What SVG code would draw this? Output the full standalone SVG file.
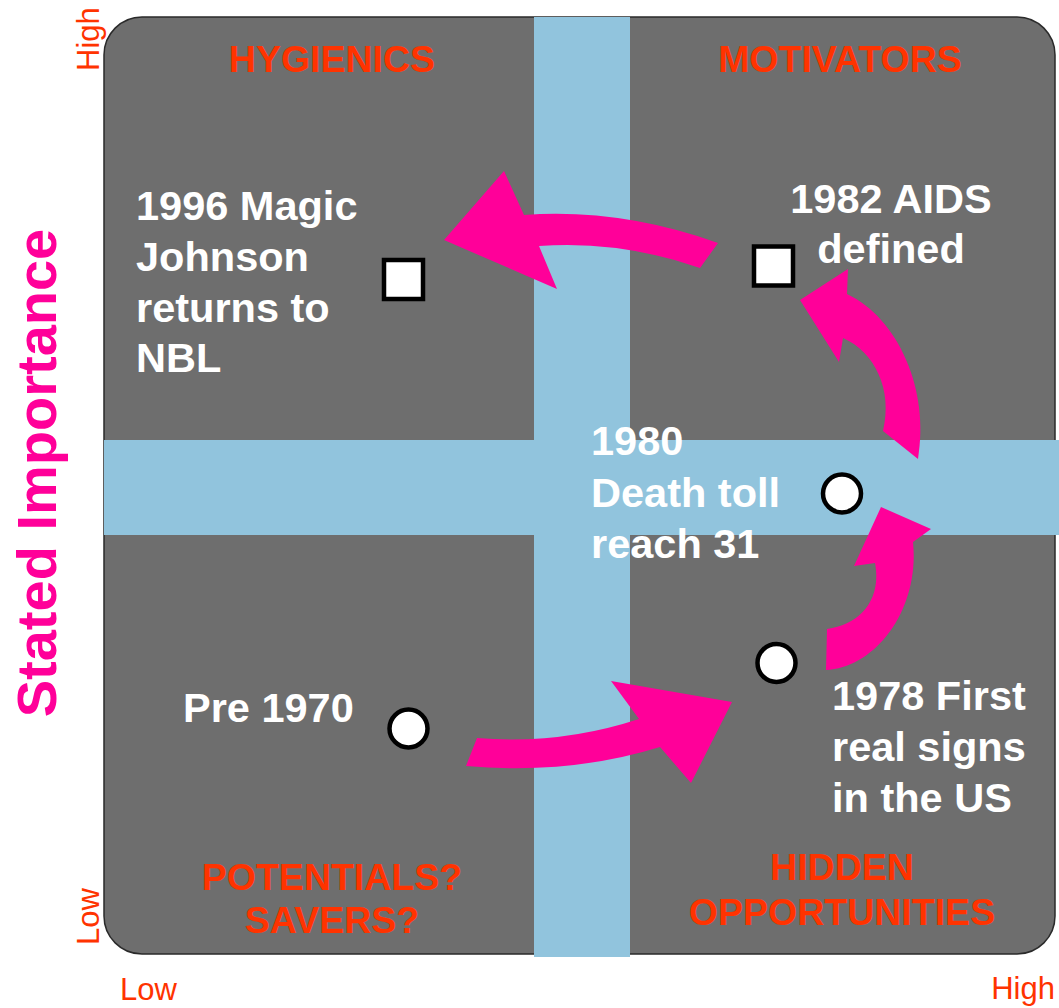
<svg xmlns="http://www.w3.org/2000/svg" width="1059" height="1008" viewBox="0 0 1059 1008">
<style>
.cat{font-family:"Liberation Sans",Arial,sans-serif;font-weight:bold;font-size:37.5px;fill:#ff3300;text-anchor:middle}
.lbl{font-family:"Liberation Sans",Arial,sans-serif;font-weight:bold;font-size:41.5px;fill:#ffffff}
.ax{font-family:"Liberation Sans",Arial,sans-serif;font-size:31px;fill:#ff3300}
.arrow{fill:#ff0099}
.band{fill:#91c4dd}
.sq{fill:#ffffff;stroke:#000000;stroke-width:4.5}
.dot{fill:#ffffff;stroke:#000000;stroke-width:4.5}
</style>
<g id="background">
<rect x="104" y="17" width="951" height="937" rx="38" ry="38" fill="#6e6e6e" stroke="#2a2a2a" stroke-width="1.5"/>
<rect class="band" x="534" y="17" width="96" height="940"/>
<rect class="band" x="104" y="440" width="955" height="95"/>
</g>
<g id="axes">
<text class="ax" transform="translate(99,71) rotate(-90)">High</text>
<text class="ax" transform="translate(99,945) rotate(-90)">Low</text>
<text class="ax" x="120" y="1000">Low</text>
<text class="ax" x="1055" y="999" text-anchor="end">High</text>
<text transform="translate(56,473) rotate(-90)" font-family="Liberation Sans, Arial, sans-serif" font-weight="bold" font-size="56" fill="#ff0099" text-anchor="middle">Stated Importance</text>
</g>
<g id="categories">
<text class="cat" x="332" y="72">HYGIENICS</text>
<text class="cat" x="840" y="72">MOTIVATORS</text>
<text class="cat" x="332" y="890">POTENTIALS?</text>
<text class="cat" x="332" y="933">SAVERS?</text>
<text class="cat" x="842" y="880">HIDDEN</text>
<text class="cat" x="842" y="925">OPPORTUNITIES</text>
</g>
<g id="connectors">
<path class="arrow" d="M477,738 Q560,745 639,719 L611,681 L732,702 L691,783 L660,747 Q570,775 466,766 Z"/>
<path class="arrow" d="M826,670 C875,668 920,610 913,542 L931,529 L881,507 L854,566 L875,563 C882,600 860,625 827,629 Z"/>
<path class="arrow" d="M918,459 C930,390 898,318 847,294 L848,269 L800,300 L839,362 L843,338 C875,352 893,390 883,431 Z"/>
<path class="arrow" d="M718,243 Q620,208 524,215 L504,171 L444,240 L557,289 L539,246 Q620,240 700,268 Z"/>
</g>
<g id="node-pre1970">
<circle class="dot" cx="408.5" cy="728.5" r="19"/>
<text class="lbl" x="183" y="722">Pre 1970</text>
</g>
<g id="node-1978">
<circle class="dot" cx="776.5" cy="663" r="19"/>
<text class="lbl" x="832" y="710">1978 First</text>
<text class="lbl" x="832" y="761">real signs</text>
<text class="lbl" x="832" y="812">in the US</text>
</g>
<g id="node-1980">
<circle class="dot" cx="842" cy="493.5" r="19"/>
<text class="lbl" x="591" y="455">1980</text>
<text class="lbl" x="591" y="506.5">Death toll</text>
<text class="lbl" x="591" y="558">reach 31</text>
</g>
<g id="node-1982">
<rect class="sq" x="754" y="246.5" width="39" height="39"/>
<text class="lbl" x="891" y="213" text-anchor="middle">1982 AIDS</text>
<text class="lbl" x="891" y="263" text-anchor="middle">defined</text>
</g>
<g id="node-1996">
<rect class="sq" x="384" y="260" width="39" height="39"/>
<text class="lbl" x="136" y="220">1996 Magic</text>
<text class="lbl" x="136" y="271">Johnson</text>
<text class="lbl" x="136" y="322">returns to</text>
<text class="lbl" x="136" y="372">NBL</text>
</g>
</svg>
